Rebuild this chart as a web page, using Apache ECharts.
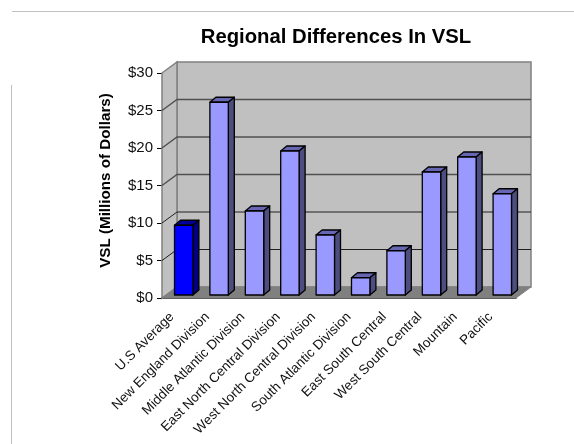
<!DOCTYPE html>
<html>
<head>
<meta charset="utf-8">
<style>
  html, body { margin: 0; padding: 0; background: #fff; }
  #chart { width: 574px; height: 444px; }
</style>
<script src="https://cdn.jsdelivr.net/npm/echarts@6/dist/echarts.min.js"></script>
</head>
<body>
<div id="chart"></div>
<script>
const categories = [
  "U.S Average", "New England Division", "Middle Atlantic Division",
  "East North Central Division", "West North Central Division",
  "South Atlantic Division", "East South Central", "West South Central",
  "Mountain", "Pacific"
];
const vsl = [9.3, 25.7, 11.2, 19.2, 8.0, 2.3, 5.9, 16.4, 18.4, 13.5];
const yTicks = [0, 5, 10, 15, 20, 25, 30];

// depth of the fake 3d box, wall and bars
const wallDx = 15, wallDy = -11;
const barDx = 6, barDy = -5;

const chart = echarts.init(document.getElementById("chart"));

function renderWalls(params, api) {
  const g = params.coordSys;
  const x0 = g.x, x1 = g.x + g.width, y0 = g.y + g.height, y1 = g.y;
  const poly = (points, fill, lineWidth) => ({
    type: "polygon",
    shape: { points },
    style: { fill, stroke: "#808080", lineWidth }
  });
  const children = [
    poly([[x0 + wallDx, y1 + wallDy], [x1 + wallDx, y1 + wallDy], [x1 + wallDx, y0 + wallDy], [x0 + wallDx, y0 + wallDy]], "#c0c0c0", 1.5),
    poly([[x0, y1], [x0 + wallDx, y1 + wallDy], [x0 + wallDx, y0 + wallDy], [x0, y0]], "#c0c0c0", 1.5),
    poly([[x0, y0], [x0 + wallDx, y0 + wallDy], [x1 + wallDx, y0 + wallDy], [x1, y0]], "#808080", 1)
  ];
  yTicks.slice(1, -1).forEach((t) => {
    const y = api.coord([0, t])[1];
    // the upper three lines come out softer in the original
    const soft = t >= 15;
    children.push({
      type: "polyline",
      shape: { points: [[x0, y], [x0 + wallDx, y + wallDy], [x1 + wallDx, y + wallDy]] },
      style: { fill: null, stroke: soft ? "#505050" : "#202020", lineWidth: soft ? 1.4 : 1 }
    });
  });
  return { type: "group", children };
}

function renderBar(params, api) {
  const i = api.value(0);
  const base = api.coord([i, 0]);
  const top = api.coord([i, api.value(1)]);
  const w = api.size([1, 0])[0] * 0.52;
  const shiftX = 4, shiftY = -3; // bars stand a little inside the floor
  const l = base[0] + shiftX - w / 2, r = l + w;
  const b = base[1] + shiftY, t = top[1] + shiftY;
  const first = i === 0;
  const line = { stroke: "#000", lineWidth: 1.3, lineJoin: "round" };
  const face = (points, fill) => ({ type: "polygon", shape: { points }, style: { fill, ...line } });
  return {
    type: "group",
    children: [
      face([[l, t], [l + barDx, t + barDy], [r + barDx, t + barDy], [r, t]], first ? "#000099" : "#6666b3"),
      face([[r, t], [r + barDx, t + barDy], [r + barDx, b + barDy], [r, b]], first ? "#000080" : "#4d4d80"),
      face([[l, t], [r, t], [r, b], [l, b]], first ? "#0000ff" : "#9999ff")
    ]
  };
}

chart.setOption({
  animation: false,
  backgroundColor: "#fff",
  title: {
    text: "Regional Differences In VSL",
    left: 331,
    top: 22,
    textAlign: "center",
    textStyle: { fontFamily: "Liberation Sans", fontSize: 20.3, fontWeight: "bold", color: "#000" }
  },
  // page frame lines left over in the original screenshot
  graphic: [
    { type: "line", silent: true, shape: { x1: 12, y1: 11.5, x2: 574, y2: 11.5 }, style: { stroke: "#c0c0c0", lineWidth: 1 } },
    { type: "line", silent: true, shape: { x1: 11.5, y1: 85, x2: 11.5, y2: 444 }, style: { stroke: "#c0c0c0", lineWidth: 1 } }
  ],
  grid: { left: 162, right: 58, top: 73, bottom: 146 },
  xAxis: {
    type: "category",
    data: categories,
    boundaryGap: true,
    axisLine: { lineStyle: { color: "#000", width: 1.5 } },
    axisTick: { length: 5, lineStyle: { color: "#000" } },
    axisLabel: {
      interval: 0,
      rotate: 45,
      margin: 9,
      padding: [0, 11, 0, 0],
      fontFamily: "Liberation Sans",
      fontSize: 13.5,
      color: "#111"
    }
  },
  yAxis: {
    type: "value",
    min: 0,
    max: 30,
    interval: 5,
    name: "VSL (Millions of Dollars)",
    nameLocation: "middle",
    nameGap: 49,
    nameRotate: 90,
    nameTextStyle: { fontFamily: "Liberation Sans", fontSize: 15.2, fontWeight: "bold", color: "#000", padding: [0, 0, 0, 10] },
    axisLine: { show: true, lineStyle: { color: "#000", width: 1 } },
    axisTick: { show: true, length: 5, lineStyle: { color: "#000" } },
    splitLine: { show: false },
    axisLabel: {
      formatter: (v) => "$" + v,
      margin: 9,
      fontFamily: "Liberation Sans",
      fontSize: 15,
      color: "#111"
    }
  },
  series: [
    { type: "custom", name: "walls", silent: true, z: 1, renderItem: renderWalls, data: [[0, 0]], encode: { x: 0, y: 1 } },
    { type: "custom", name: "VSL", z: 2, renderItem: renderBar, data: vsl.map((v, i) => [i, v]), encode: { x: 0, y: 1 } }
  ]
});
</script>
</body>
</html>
